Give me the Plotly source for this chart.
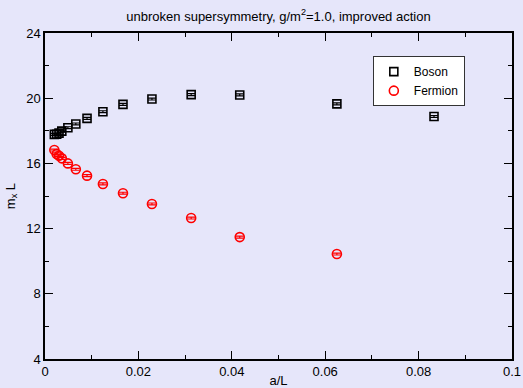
import plotly.graph_objects as go

a_over_L = [0.0020, 0.0025, 0.0030, 0.0036, 0.0049, 0.0066, 0.0090, 0.0124,
            0.0167, 0.0229, 0.0313, 0.0417, 0.0625, 0.0833]
boson = [17.78, 17.79, 17.86, 17.98, 18.19, 18.42, 18.76, 19.17,
         19.62, 19.95, 20.22, 20.20, 19.65, 18.88]
boson_err = [0.06] * len(boson)

a_over_L_f = [0.0020, 0.0025, 0.0030, 0.0036, 0.0049, 0.0066, 0.0090, 0.0124,
              0.0167, 0.0229, 0.0313, 0.0417, 0.0625]
fermion = [16.82, 16.58, 16.47, 16.31, 16.00, 15.64, 15.25, 14.74,
           14.17, 13.51, 12.65, 11.48, 10.44]
fermion_err = [0.06] * len(fermion)

BG = "#E6E6FA"
FONT = "Liberation Sans, Arial, sans-serif"

fig = go.Figure()
fig.add_trace(go.Scatter(
    x=a_over_L, y=boson, mode="markers", name="Boson",
    marker=dict(symbol="square-open", size=8, color="black", line=dict(width=1.6, color="black")),
    error_y=dict(type="data", array=boson_err, visible=True, color="black", thickness=1.2, width=4),
))
fig.add_trace(go.Scatter(
    x=a_over_L_f, y=fermion, mode="markers", name="Fermion",
    marker=dict(symbol="circle-open", size=9, color="red", line=dict(width=1.6, color="red")),
    error_y=dict(type="data", array=fermion_err, visible=True, color="red", thickness=1.2, width=4),
))

axis_common = dict(
    showline=True, linecolor="black", linewidth=1.5, mirror="allticks",
    ticks="inside", ticklen=8, tickwidth=1.2, tickcolor="black",
    showgrid=False, zeroline=False, automargin=False,
    tickfont=dict(family=FONT, size=13, color="black"),
)

fig.update_xaxes(
    range=[0, 0.1], tick0=0, dtick=0.02,
    minor=dict(ticks="inside", ticklen=4, dtick=0.01, tickcolor="black", tickwidth=1.2, showgrid=False),
    title=dict(text="a/L", font=dict(family=FONT, size=13, color="black"), standoff=0),
    **axis_common,
)
fig.update_yaxes(
    range=[4, 24], tick0=4, dtick=4,
    minor=dict(ticks="inside", ticklen=4, dtick=2, tickcolor="black", tickwidth=1.2, showgrid=False),
    title=dict(text="m<sub>x</sub> L", font=dict(family=FONT, size=13, color="black"), standoff=8),
    **axis_common,
)

fig.update_layout(
    width=523, height=388,
    margin=dict(l=45, r=11, t=33, b=29),
    paper_bgcolor=BG, plot_bgcolor=BG,
    title=dict(text="unbroken supersymmetry, g/m<sup>2</sup>=1.0, improved action",
               font=dict(family=FONT, size=13, color="black"),
               x=0.5, xref="paper", xanchor="center", y=1 - 16 / 388, yref="container", yanchor="middle"),
    legend=dict(x=0.702, y=0.929, xanchor="left", yanchor="top",
                bgcolor="white", bordercolor="#333333", borderwidth=1,
                font=dict(family=FONT, size=12, color="black"),
                itemwidth=30, tracegroupgap=0),
    showlegend=True,
)

fig.write_html("out.html")
